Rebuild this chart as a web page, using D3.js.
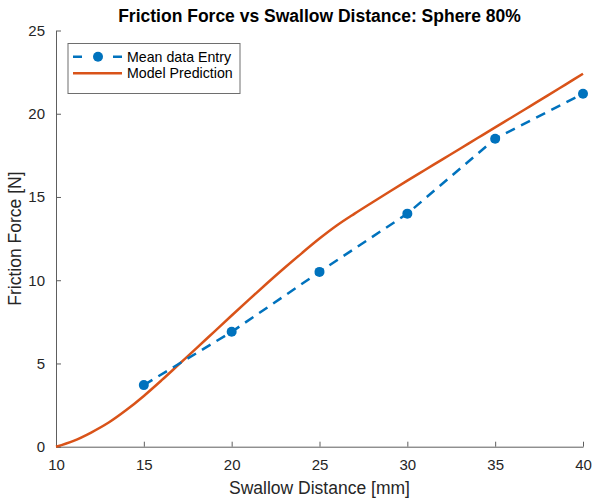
<!DOCTYPE html>
<html>
<head>
<meta charset="utf-8">
<script src="https://cdn.jsdelivr.net/npm/d3@7"></script>
<style>
  html, body { margin: 0; padding: 0; background: #fff; }
  svg { display: block; font-family: "Liberation Sans", Arial, Helvetica, sans-serif; }
</style>
</head>
<body>
<svg id="chart" width="593" height="502"></svg>
<script>
// Measured mean friction force at each swallow distance
const distance = [15, 20, 25, 30, 35, 40];
const meanForce = [3.7, 6.9, 10.5, 14.0, 18.5, 21.2];

// Model prediction sampled every millimetre
const modelDistance = [10, 11, 12, 13, 14, 15, 16, 17, 18, 19, 20, 21, 22, 23, 24, 25,
                       26, 27, 28, 29, 30, 31, 32, 33, 34, 35, 36, 37, 38, 39, 40];
const modelForce = [0, 0.35, 0.85, 1.45, 2.2, 3.05, 3.98, 4.95, 5.92, 6.9, 7.88, 8.85, 9.8, 10.73, 11.63, 12.5,
                    13.3, 14.0, 14.67, 15.33, 15.98, 16.62, 17.26, 17.9, 18.54, 19.18, 19.82, 20.46, 21.1, 21.75, 22.4];

const xTicks = [10, 15, 20, 25, 30, 35, 40];
const yTicks = [0, 5, 10, 15, 20, 25];

const seriesNames = ["Mean data Entry", "Model Prediction"];
const colors = { data: "#0072BD", model: "#D95319" };

const svg = d3.select("#chart");
const margin = { left: 56, right: 10, top: 30.5, bottom: 55.3 };
const W = 593, H = 502;

const x = d3.scaleLinear().domain([10, 40]).range([margin.left, W - margin.right]);
const y = d3.scaleLinear().domain([0, 25]).range([H - margin.bottom, margin.top]);

const axisColor = "#5e5e5e";
const textColor = "#262626";

// Axes with inward ticks
const gx = svg.append("g")
  .attr("transform", `translate(0,${y(0)})`)
  .call(d3.axisBottom(x).tickValues(xTicks).tickSizeInner(-5).tickSizeOuter(0).tickPadding(12.5));
const gy = svg.append("g")
  .attr("transform", `translate(${x(10)},0)`)
  .call(d3.axisLeft(y).tickValues(yTicks).tickSizeInner(-5).tickSizeOuter(0).tickPadding(11));

[gx, gy].forEach(g => {
  g.select(".domain").attr("stroke", axisColor).attr("stroke-width", 1);
  g.selectAll(".tick line").attr("stroke", axisColor).attr("stroke-width", 1);
  g.selectAll(".tick text").attr("fill", textColor).style("font-size", "15px")
    .style("font-family", "'Liberation Sans', Arial, sans-serif");
});

// Model prediction curve
const modelPts = modelDistance.map((d, i) => [d, modelForce[i]]);
svg.append("path")
  .datum(modelPts)
  .attr("fill", "none")
  .attr("stroke", colors.model)
  .attr("stroke-width", 2.5)
  .attr("stroke-linejoin", "round")
  .attr("d", d3.line().x(d => x(d[0])).y(d => y(d[1])).curve(d3.curveMonotoneX));

// Mean data: dashed line with filled markers
const dataPts = distance.map((d, i) => [d, meanForce[i]]);
svg.append("path")
  .datum(dataPts)
  .attr("fill", "none")
  .attr("stroke", colors.data)
  .attr("stroke-width", 2.5)
  .attr("stroke-dasharray", "10,7")
  .attr("d", d3.line().x(d => x(d[0])).y(d => y(d[1])));
svg.append("g").selectAll("circle")
  .data(dataPts)
  .join("circle")
  .attr("cx", d => x(d[0]))
  .attr("cy", d => y(d[1]))
  .attr("r", 5)
  .attr("fill", colors.data);

// Title and axis labels
svg.append("text")
  .attr("x", (x(10) + x(40)) / 2)
  .attr("y", 22)
  .attr("text-anchor", "middle")
  .attr("fill", "#000")
  .style("font-size", "17.5px")
  .style("font-weight", "bold")
  .text("Friction Force vs Swallow Distance: Sphere 80%");

svg.append("text")
  .attr("x", (x(10) + x(40)) / 2)
  .attr("y", 494)
  .attr("text-anchor", "middle")
  .attr("fill", textColor)
  .style("font-size", "17.5px")
  .text("Swallow Distance [mm]");

svg.append("text")
  .attr("transform", `translate(21,${(y(0) + y(25)) / 2}) rotate(-90)`)
  .attr("text-anchor", "middle")
  .attr("fill", textColor)
  .style("font-size", "17.5px")
  .text("Friction Force [N]");

// Legend
const lg = svg.append("g").attr("transform", "translate(68,43.5)");
lg.append("rect")
  .attr("width", 172).attr("height", 50)
  .attr("fill", "#fff").attr("stroke", "#6e6e6e").attr("stroke-width", 1);
const rowY = [13.2, 29.8];
lg.append("line")
  .attr("x1", 5).attr("x2", 54).attr("y1", rowY[0]).attr("y2", rowY[0])
  .attr("stroke", colors.data).attr("stroke-width", 2.5).attr("stroke-dasharray", "9,31,9");
lg.append("circle").attr("cx", 30).attr("cy", rowY[0]).attr("r", 5).attr("fill", colors.data);
lg.append("line")
  .attr("x1", 5).attr("x2", 54).attr("y1", rowY[1]).attr("y2", rowY[1])
  .attr("stroke", colors.model).attr("stroke-width", 2.5);
lg.selectAll("text.lbl")
  .data(seriesNames)
  .join("text")
  .attr("class", "lbl")
  .attr("x", 59)
  .attr("y", (d, i) => rowY[i] + 5)
  .attr("fill", "#000")
  .style("font-size", "14.2px")
  .text(d => d);
</script>
</body>
</html>
